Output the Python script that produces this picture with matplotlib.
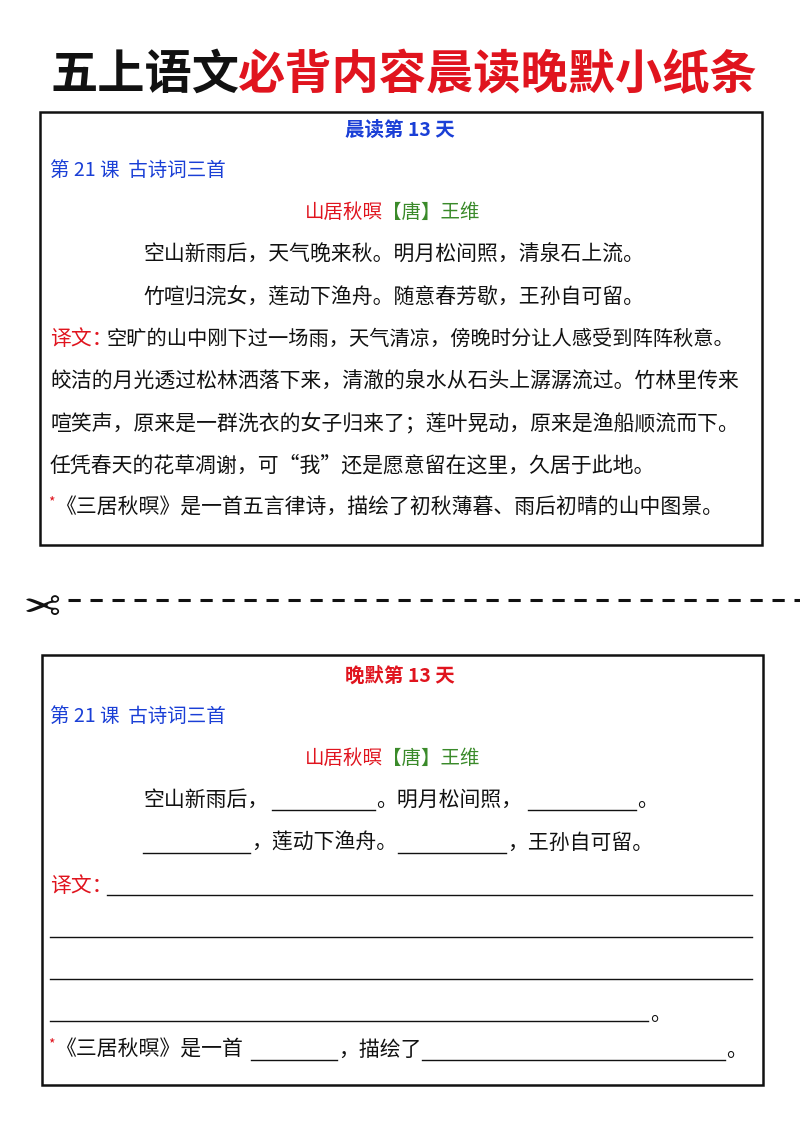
import matplotlib
matplotlib.use("Agg")
import matplotlib.pyplot as plt
from matplotlib.patches import Rectangle

plt.rcParams['font.family'] = ['Noto Sans CJK SC', 'DejaVu Sans']

title_black = "五上语文"
title_red = "必背内容晨读晚默小纸条"
morning_head = "晨读第 13 天"
evening_head = "晚默第 13 天"
lesson = "第 21 课  古诗词三首"
poem_title = "山居秋暝"
poem_author = "【唐】王维"
poem_lines = ["空山新雨后，天气晚来秋。明月松间照，清泉石上流。",
              "竹喧归浣女，莲动下渔舟。随意春芳歇，王孙自可留。"]
trans_lines = ["空旷的山中刚下过一场雨，天气清凉，傍晚时分让人感受到阵阵秋意。",
               "皎洁的月光透过松林洒落下来，清澈的泉水从石头上潺潺流过。竹林里传来",
               "喧笑声，原来是一群洗衣的女子归来了；莲叶晃动，原来是渔船顺流而下。",
               "任凭春天的花草凋谢，可“我”还是愿意留在这里，久居于此地。"]
note = "《三居秋暝》是一首五言律诗，描绘了初秋薄暮、雨后初晴的山中图景。"

BLUE = "#1a3fd6"; RED = "#e0141e"; GREEN = "#3a8a2a"; BLACK = "#111111"
FS = 15

fig = plt.figure(figsize=(8, 11.32), dpi=100)
ax = fig.add_axes([0, 0, 1, 1])
ax.set_xlim(0, 800); ax.set_ylim(1132, 0); ax.axis('off')

ax.text(50, 75, title_black, fontsize=34, fontweight='bold', color=BLACK, va='center')
ax.text(238, 75, title_red, fontsize=34, fontweight='bold', color=RED, va='center')

def box(x0, y0, x1, y1):
    ax.add_patch(Rectangle((x0, y0), x1 - x0, y1 - y0, fill=False, lw=1.8, ec=BLACK))

def header(y0, head, hcolor):
    ax.text(400, y0, head, fontsize=14, fontweight='bold', color=hcolor, ha='center', va='center')
    ax.text(50, y0 + 40, lesson, fontsize=FS - 1, color=BLUE, va='center')
    ax.text(305, y0 + 82, poem_title, fontsize=FS - 1, color=RED, va='center')
    ax.text(382, y0 + 82, poem_author, fontsize=FS - 1, color=GREEN, va='center')

# morning box
box(40, 112, 762, 545)
header(130, morning_head, BLUE)
for i, ln in enumerate(poem_lines):
    ax.text(143, 255 + 42 * i, ln, fontsize=FS, color=BLACK, va='center')
ax.text(50, 339, "译文：", fontsize=FS, color=RED, va='center')
for i, ln in enumerate(trans_lines):
    x = 106 if i == 0 else 50
    ax.text(x, 339 + 42.3 * i, ln, fontsize=FS if i else FS - 0.4, color=BLACK, va='center')
ax.text(48, 502, "*", fontsize=10, color=RED, va='center')
ax.text(56, 508, note, fontsize=FS, color=BLACK, va='center')

# scissors + dashed line
ax.text(40, 600, "✂", fontsize=32, color=BLACK, ha='center', va='center',
        family='DejaVu Sans', rotation=180)
ax.plot([68, 800], [600, 600], ls=(0, (4, 3.2)), lw=2.2, color=BLACK)

# evening box
box(42, 655, 763, 1085)
header(676, evening_head, RED)
lw = 1.0
y = 800
ax.text(143, y, "空山新雨后，", fontsize=FS, color=BLACK, va='center')
ax.plot([272, 375], [y + 10, y + 10], color=BLACK, lw=lw)
ax.text(376, y, "。明月松间照，", fontsize=FS, color=BLACK, va='center')
ax.plot([528, 636], [y + 10, y + 10], color=BLACK, lw=lw)
ax.text(637, y, "。", fontsize=FS, color=BLACK, va='center')
y = 843
ax.plot([143, 250], [y + 10, y + 10], color=BLACK, lw=lw)
ax.text(251, y, "，莲动下渔舟。", fontsize=FS, color=BLACK, va='center')
ax.plot([398, 506], [y + 10, y + 10], color=BLACK, lw=lw)
ax.text(507, y, "，王孙自可留。", fontsize=FS, color=BLACK, va='center')
ax.text(50, 886, "译文：", fontsize=FS, color=RED, va='center')
ax.plot([107, 752], [895, 895], color=BLACK, lw=lw)
for yy in (937, 979):
    ax.plot([50, 752], [yy, yy], color=BLACK, lw=lw)
ax.plot([50, 648], [1021, 1021], color=BLACK, lw=lw)
ax.text(650, 1014, "。", fontsize=FS, color=BLACK, va='center')
y = 1050
ax.text(48, 1044, "*", fontsize=10, color=RED, va='center')
ax.text(56, y, "《三居秋暝》是一首", fontsize=FS, color=BLACK, va='center')
ax.plot([251, 337], [y + 10, y + 10], color=BLACK, lw=lw)
ax.text(338, y, "，描绘了", fontsize=FS, color=BLACK, va='center')
ax.plot([422, 725], [y + 10, y + 10], color=BLACK, lw=lw)
ax.text(726, y, "。", fontsize=FS, color=BLACK, va='center')

fig.savefig("out.png", dpi=100, facecolor='white')
